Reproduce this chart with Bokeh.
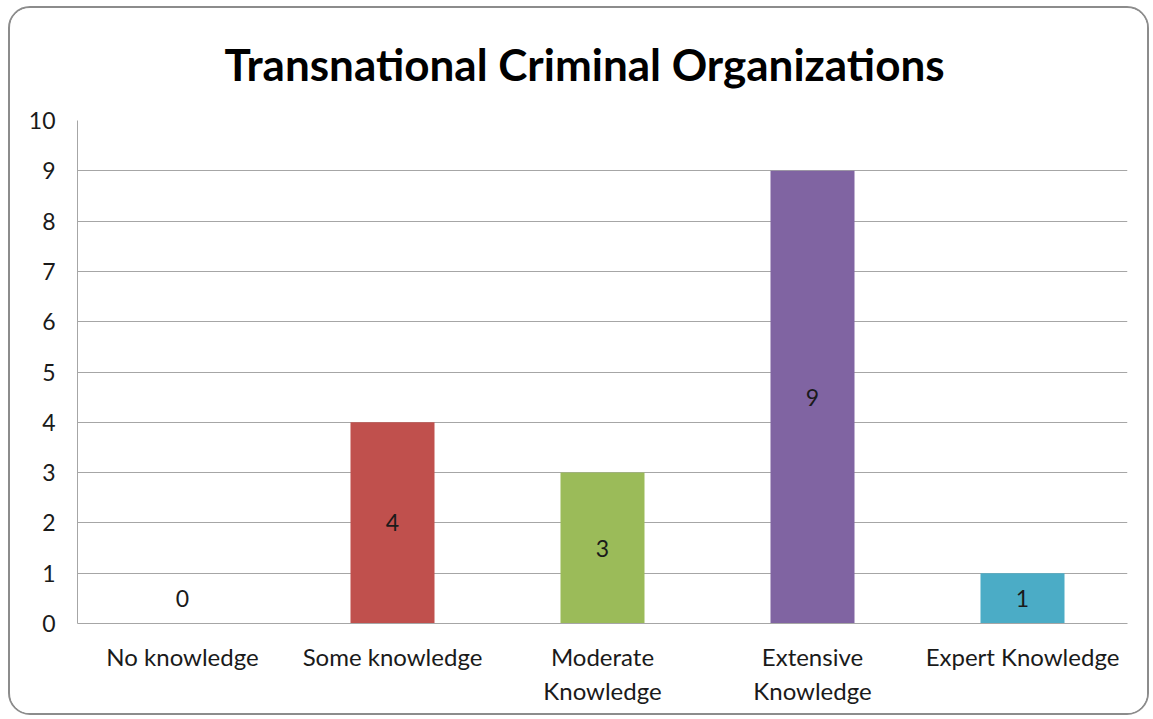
from bokeh.plotting import figure
from bokeh.models import ColumnDataSource, FixedTicker, Title
from bokeh.core.properties import value
from bokeh.embed import file_html
from bokeh.resources import INLINE

title_text = "Transnational Criminal Organizations"
categories = ["No knowledge", "Some knowledge", "Moderate\nKnowledge",
              "Extensive\nKnowledge", "Expert Knowledge"]
counts = [0, 4, 3, 9, 1]
colors = ["#C0504D", "#C0504D", "#9BBB59", "#8064A2", "#4BACC6"]
y_ticks = [0, 1, 2, 3, 4, 5, 6, 7, 8, 9, 10]

label_y = [max(v, 1) / 2 for v in counts]
source = ColumnDataSource(dict(cat=categories, val=counts, color=colors,
                               ly=label_y, txt=[str(v) for v in counts]))

p = figure(x_range=categories, y_range=(0, 10), width=1141, height=709,
           output_backend="svg", toolbar_location=None,
           min_border_left=67, min_border_right=24, min_border_top=111,
           min_border_bottom=94)
p.x_range.range_padding = 0

p.title = Title(text=title_text, align="left", vertical_align="top",
                text_font="Lato", text_font_size="44px",
                text_font_style="bold", text_color="#000000",
                standoff=58, offset=147)

p.vbar(x="cat", top="val", width=0.4, color="color", source=source,
       line_color=None)
p.text(x="cat", y="ly", text="txt", source=source, text_align="center",
       text_baseline="middle", text_font=value("Lato"),
       text_font_size="23px", text_color="#1a1a1a")

p.outline_line_color = None
p.background_fill_color = "white"
p.border_fill_color = "white"

p.yaxis.ticker = FixedTicker(ticks=y_ticks)
p.ygrid.ticker = FixedTicker(ticks=y_ticks)
p.ygrid.grid_line_color = "#A6A6A6"
p.ygrid.grid_line_width = 1
p.xgrid.grid_line_color = None

for ax in (p.xaxis, p.yaxis):
    ax.axis_line_color = "#A6A6A6"
    ax.axis_line_width = 1
    ax.major_tick_line_color = None
    ax.minor_tick_line_color = None
    ax.major_tick_out = 0
    ax.major_tick_in = 0
    ax.major_label_text_font = "Lato"
    ax.major_label_text_color = "#1a1a1a"

p.yaxis.major_label_text_font_size = "23px"
p.yaxis.major_label_standoff = 22
p.xaxis.major_label_text_font_size = "24px"
p.xaxis.major_label_standoff = 18

p.styles = {"border": "2px solid #8c8c8c", "border-radius": "22px",
            "overflow": "hidden", "margin-left": "8px", "margin-top": "6px"}

open("out.html", "w").write(file_html(p, INLINE))
